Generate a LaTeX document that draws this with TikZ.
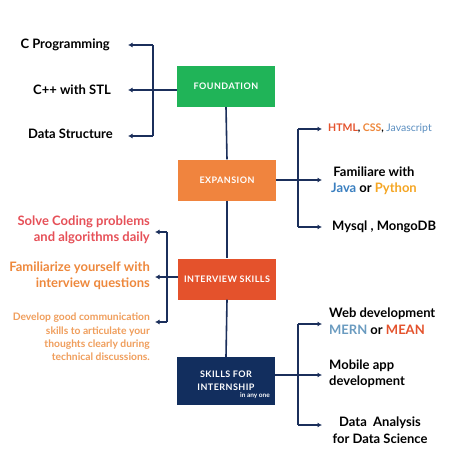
\documentclass[tikz,border=0pt]{standalone}
\usepackage{fontspec}
\setmainfont{Lato}
\usetikzlibrary{arrows.meta}
\definecolor{fgreen}{RGB}{32,180,88}
\definecolor{eorange}{RGB}{240,132,62}
\definecolor{ired}{RGB}{228,82,44}
\definecolor{snavy}{RGB}{18,46,94}
\definecolor{cnavy}{RGB}{27,47,91}
\definecolor{solvec}{RGB}{230,80,88}
\definecolor{famc}{RGB}{238,136,60}
\definecolor{devc}{RGB}{240,158,92}
\definecolor{jsblue}{RGB}{90,142,192}
\definecolor{javablue}{RGB}{58,127,192}
\definecolor{pyyellow}{RGB}{245,166,35}
\definecolor{mernblue}{RGB}{106,155,192}
\begin{document}
\begin{tikzpicture}[x=1pt,y=-1pt,
  box/.style={minimum width=98pt, minimum height=41pt, inner sep=0pt, text=white,
    font=\fontsize{9}{11}\selectfont\bfseries\addfontfeatures{LetterSpace=5}, align=center},
  conn/.style={draw=cnavy, line width=1.6pt},
  arr/.style={draw=cnavy, line width=1.6pt, -{Latex[length=4.5pt,width=5pt]}},
  lbl/.style={inner sep=0pt, font=\fontsize{13}{16.5}\selectfont\bfseries, text=black},
  small/.style={inner sep=0pt, font=\fontsize{10.5}{13.5}\selectfont\bfseries},
]
\useasboundingbox[fill=white] (0,0) rectangle (450,450);
% boxes
\node[box, fill=fgreen] (F) at (226,86.5) {FOUNDATION};
\node[box, fill=eorange] (E) at (227,180) {EXPANSION};
\node[box, fill=ired] (I) at (227,279) {INTERVIEW SKILLS};
\node[box, fill=snavy, minimum height=48pt] (S) at (226,381) {};
\node[inner sep=0pt, text=white, font=\fontsize{9}{13}\selectfont\bfseries\addfontfeatures{LetterSpace=5}, align=center] (St) at (226,381) {SKILLS FOR\\INTERNSHIP};
\node[inner sep=0pt, text=white, font=\fontsize{6.5}{7}\selectfont\bfseries, anchor=east] (Sn) at (270,396) {in any one};
% spine
\draw[conn] (F.south) -- (E.north);
\draw[conn] (E.south) -- (I.north);
\draw[conn] (I.south) -- (S.north);
% foundation labels
\node[lbl, anchor=east] (f1) at (110,45) {C Programming};
\node[lbl, anchor=east] (f2) at (111,90) {C++ with STL};
\node[lbl, anchor=east] (f3) at (113,134) {Data Structure};
\coordinate (fb) at (153,90);
\coordinate (ft) at (153,45);
\coordinate (fbt) at (153,136);
\draw[conn] (F.west|-fb) -- (fb);
\draw[conn] (ft) -- (fbt);
\draw[arr] (ft) -- (128,45);
\draw[arr] (fb) -- (128,90);
\draw[arr] (fbt) -- (128,136);
% expansion labels
\node[small, anchor=west] (e1) at (328,129) {\textcolor{ired}{HTML}, \textcolor{famc}{CSS}, \textcolor{jsblue}{\mdseries Javascript}};
\node[lbl, align=center] (e2) at (374,181) {Familiare with\\\textcolor{javablue}{Java} or \textcolor{pyyellow}{Python}};
\node[lbl, anchor=west] (e3) at (332,227) {Mysql , MongoDB};
\coordinate (eb) at (298,180);
\coordinate (et) at (298,129);
\coordinate (ebt) at (298,227);
\draw[conn] (E.east|-eb) -- (eb);
\draw[conn] (et) -- (ebt);
\draw[arr] (et) -- (322,129);
\draw[arr] (eb) -- (322,180);
\draw[arr] (ebt) -- (322,227);
% interview labels
\node[lbl, anchor=east, align=right, text=solvec] (i1) at (150,230) {Solve Coding problems\\and algorithms daily};
\node[lbl, anchor=east, align=right, text=famc] (i2) at (150,276) {Familiarize yourself with\\interview questions};
\node[inner sep=0pt, anchor=east, align=right, text=devc, font=\fontsize{10.3}{13.3}\selectfont\bfseries] (i3) at (150,337) {Develop good communication\\skills to articulate your\\thoughts clearly during\\technical discussions.};
\coordinate (ib) at (167,277);
\coordinate (it) at (167,232);
\coordinate (ibt) at (167,322);
\draw[conn] (I.west|-ib) -- (ib);
\draw[conn] (it) -- (ibt);
\draw[arr] (it) -- (155,232);
\draw[arr] (ib) -- (155,277);
\draw[arr] (ibt) -- (155,322);
% internship labels
\node[lbl, anchor=west, align=left] (s1) at (329,321) {Web development\\\textcolor{mernblue}{MERN} or \textcolor{ired}{MEAN}};
\node[lbl, anchor=west, align=left] (s2) at (329,374) {Mobile app\\development};
\node[lbl, align=center] (s3) at (380,430) {Data \ Analysis\\for Data Science};
\coordinate (sb) at (298,375);
\coordinate (st) at (298,324);
\coordinate (sbt) at (298,425);
\draw[conn] (S.east|-sb) -- (sb);
\draw[conn] (st) -- (sbt);
\draw[arr] (st) -- (322,324);
\draw[arr] (sb) -- (322,375);
\draw[arr] (sbt) -- (322,425);
\end{tikzpicture}
\end{document}
